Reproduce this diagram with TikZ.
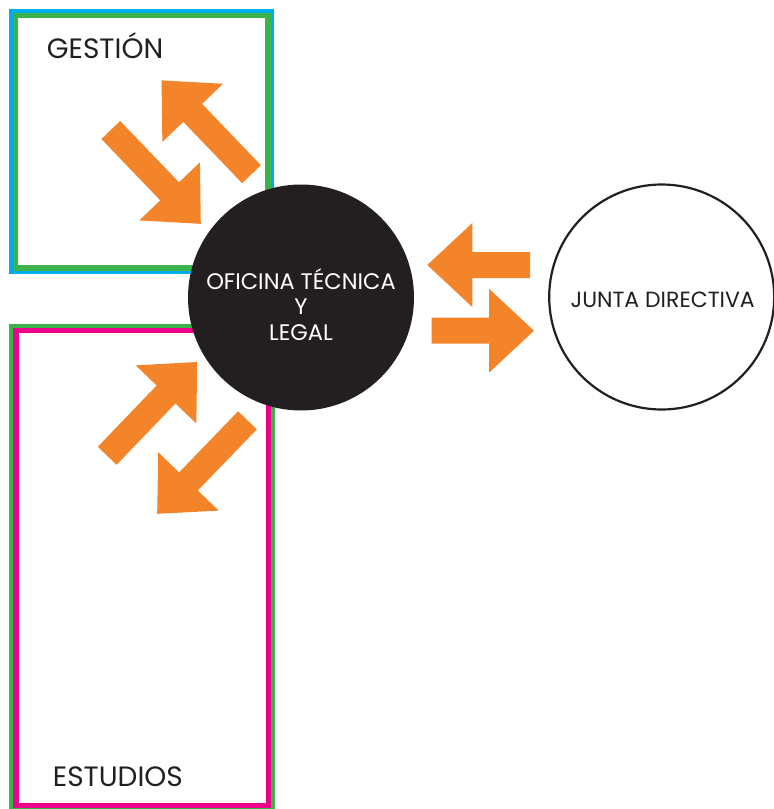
\documentclass[tikz,border=0pt]{standalone}
\usepackage{fontspec}
\setmainfont{Poppins}
\definecolor{framecyan}{RGB}{0,174,239}
\definecolor{framegreen}{RGB}{59,178,74}
\definecolor{framemagenta}{RGB}{236,0,140}
\definecolor{flow}{RGB}{243,132,42}
\definecolor{ink}{RGB}{35,31,32}
% block arrow: #1 tail point, #2 direction angle, #3 total length
\newcommand\flowarrow[3]{%
  \fill[flow, shift={#1}, rotate=#2]
    (0,13) -- (#3-45,13) -- (#3-45,42) -- (#3,0) -- (#3-45,-42)
    -- (#3-45,-13) -- (0,-13) -- cycle;}
\tikzset{
  outerframe/.style={draw=#1, line width=9pt, inner sep=0pt, outer sep=0pt},
  innerframe/.style={draw=#1, line width=5.6pt},
  boxlabel/.style={font=\fontsize{28}{32}\selectfont, text=ink, inner sep=0pt},
  circlelabel/.style={font=\fontsize{#1}{25.5}\selectfont, align=center, inner sep=0pt},
}
\begin{document}
\begin{tikzpicture}[x=1pt,y=-1pt]
\useasboundingbox (0,0) rectangle (774,809);
% frames
\node[outerframe=framecyan, minimum width=256pt, minimum height=256pt] (gestion) at (141.8,141.8) {};
\draw[innerframe=framegreen] ([shift={(1.6,1.6)}]gestion.north west) rectangle ([shift={(-1.6,-1.6)}]gestion.south east);
\node[outerframe=framegreen, minimum width=256.7pt, minimum height=479pt] (estudios) at (142.15,568) {};
\draw[innerframe=framemagenta] ([shift={(1.9,1.9)}]estudios.north west) rectangle ([shift={(-1.9,-1.9)}]estudios.south east);
\node[boxlabel, anchor=base west] (gestionlabel) at (46.7,58.7) {GESTIÓN};
\node[boxlabel, anchor=base west] (estudioslabel) at (52.7,786) {ESTUDIOS};
% arrows
\flowarrow{(110.8,130)}{-46.2}{130}
\flowarrow{(251.5,174.2)}{133.8}{130}
\flowarrow{(107.2,455.8)}{46.2}{130}
\flowarrow{(247.5,420.3)}{-134}{130}
\flowarrow{(530,265)}{180}{102.7}
\flowarrow{(431.7,330.7)}{0}{102.3}
% circles
\node[circle, fill=ink, minimum size=226pt, inner sep=0pt] (oficina) at (301,297.5) {};
\node[circlelabel=22.5, text=white, anchor=base] (oficinalabel) at (301,340) {OFICINA TÉCNICA\\Y\\LEGAL};
\node[circle, draw=ink, line width=2.2pt, fill=white, minimum size=225pt, inner sep=0pt] (junta) at (661.7,297) {};
\node[circlelabel=22, text=ink, anchor=base] (juntalabel) at (662.7,307.3) {JUNTA DIRECTIVA};
\end{tikzpicture}
\end{document}
